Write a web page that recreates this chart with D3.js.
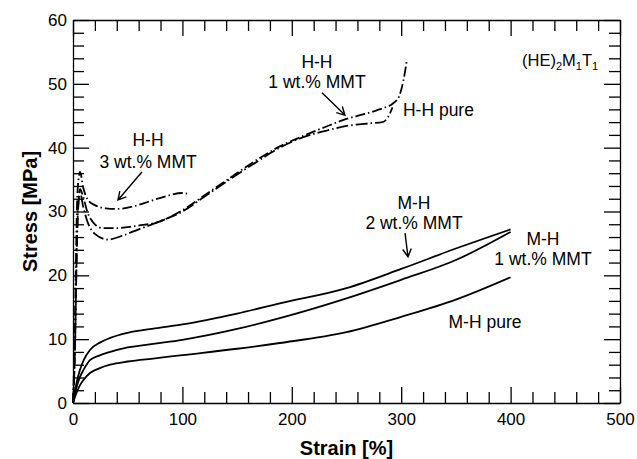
<!DOCTYPE html>
<html><head><meta charset="utf-8">
<script src="https://cdn.jsdelivr.net/npm/d3@7"></script>
<style>
body{margin:0;background:#fff;}
text{font-family:"Liberation Sans",Arial,sans-serif;}
</style></head>
<body><svg id="c" width="637" height="459"></svg>
<script>
// ---- data: [strain %, stress MPa]
const hh3 = [[0,0],[1.5,10],[2.5,20],[3.5,30],[5,35],[6.5,36.2],[9,34],[13,32],[20,31],[30,30.5],[40,30.4],[55,30.8],[70,31.6],[85,32.4],[100,32.9],[105,32.8]];
const hh1 = [[0,0],[2,10],[3,20],[4.5,30],[6.5,33.5],[9,32.5],[13,30],[20,28],[27,27.4],[40,27.4],[60,27.8],[77,28.3],[100,30.2],[120,32.5],[143,35.2],[170,38.3],[189,40.2],[210,41.8],[230,43.2],[250,44.5],[265,45.2],[280,46],[293,47],[298,48],[302,50.5],[305,53.5]];
const hhPure = [[0,0],[2,10],[3,20],[4.5,30],[6.5,33],[9,31],[13,28.5],[20,26.5],[32,25.6],[45,26.2],[60,27.2],[80,28.5],[100,30],[120,32.3],[143,35],[170,38],[189,40],[210,41.6],[230,42.6],[250,43.4],[270,43.8],[283,44.0],[288,44.8],[292,46.3]];
const mh2 = [[0,0],[3,3],[6.4,5.2],[10,6.8],[15.5,8.3],[25,9.5],[34,10.2],[50,11],[75,11.7],[100,12.3],[150,14],[189,15.6],[250,18],[300,21],[350,24.2],[400,27.2]];
const mh1 = [[0,0],[3,2.3],[6.4,4.1],[10,5.3],[15.5,6.7],[25,7.5],[34,8],[50,8.7],[75,9.3],[100,9.9],[150,11.6],[189,13.3],[250,16.4],[300,19.3],[350,22.4],[400,26.8]];
const mhPure = [[0,0],[3,1.5],[6.4,2.8],[10,3.7],[15.5,4.7],[25,5.5],[34,6.0],[50,6.5],[75,7],[100,7.5],[150,8.5],[189,9.4],[250,11.1],[300,13.5],[350,16.2],[400,19.7]];
const xMajor = [0,100,200,300,400,500];
const yMajor = [0,10,20,30,40,50,60];

const svg = d3.select("#c");
const L=73,R=620,T=20,B=403;
const x = d3.scaleLinear().domain([0,500]).range([L,R]);
const y = d3.scaleLinear().domain([0,60]).range([B,T]);
const xMinor = d3.range(0,501,20).filter(v=>v%100);
const yMinor = d3.range(0,61,2).filter(v=>v%10);

function styleAxis(g){
  g.selectAll("path,line").attr("stroke","#000").attr("stroke-width",1.3);
  g.selectAll("text").attr("font-size",17).attr("fill","#000")
    .attr("font-family","'Liberation Sans',Arial,sans-serif");
}
// bottom
svg.append("g").attr("transform",`translate(0,${B})`)
  .call(d3.axisBottom(x).tickValues(xMajor).tickSizeInner(-16).tickSizeOuter(0).tickPadding(10).tickFormat(d3.format("d")))
  .call(styleAxis);
svg.append("g").attr("transform",`translate(0,${B})`)
  .call(d3.axisBottom(x).tickValues(xMinor).tickSizeInner(-11).tickSizeOuter(0).tickFormat(""))
  .call(styleAxis).select(".domain").remove();
// top
svg.append("g").attr("transform",`translate(0,${T})`)
  .call(d3.axisTop(x).tickValues(xMajor).tickSizeInner(-16).tickSizeOuter(0).tickFormat(""))
  .call(styleAxis);
svg.append("g").attr("transform",`translate(0,${T})`)
  .call(d3.axisTop(x).tickValues(xMinor).tickSizeInner(-11).tickSizeOuter(0).tickFormat(""))
  .call(styleAxis).select(".domain").remove();
// left
svg.append("g").attr("transform",`translate(${L},0)`)
  .call(d3.axisLeft(y).tickValues(yMajor).tickSizeInner(-16).tickSizeOuter(0).tickPadding(6).tickFormat(d3.format("d")))
  .call(styleAxis);
svg.append("g").attr("transform",`translate(${L},0)`)
  .call(d3.axisLeft(y).tickValues(yMinor).tickSizeInner(-11).tickSizeOuter(0).tickFormat(""))
  .call(styleAxis).select(".domain").remove();
// right
svg.append("g").attr("transform",`translate(${R},0)`)
  .call(d3.axisRight(y).tickValues(yMajor).tickSizeInner(-16).tickSizeOuter(0).tickFormat(""))
  .call(styleAxis);
svg.append("g").attr("transform",`translate(${R},0)`)
  .call(d3.axisRight(y).tickValues(yMinor).tickSizeInner(-11).tickSizeOuter(0).tickFormat(""))
  .call(styleAxis).select(".domain").remove();

// axis titles
svg.append("text").attr("x",(L+R)/2).attr("y",455).attr("text-anchor","middle")
  .attr("font-size",20).attr("font-weight","bold").text("Strain [%]");
svg.append("text").attr("transform",`translate(37,${(T+B)/2}) rotate(-90)`).attr("text-anchor","middle")
  .attr("font-size",20).attr("font-weight","bold").text("Stress [MPa]");

// curves
const line = d3.line().x(d=>x(d[0])).y(d=>y(d[1])).curve(d3.curveMonotoneX);
const series = [
  {d:mh2,dash:null},{d:mh1,dash:null},{d:mhPure,dash:null},
  {d:hh3,dash:"10,3,1.5,3"},{d:hh1,dash:"10,3,1.5,3"},{d:hhPure,dash:"12,3,1.5,3"}
];
svg.append("g").selectAll("path").data(series).join("path")
  .attr("d",s=>line(s.d)).attr("fill","none").attr("stroke","#000")
  .attr("stroke-width",1.8).attr("stroke-dasharray",s=>s.dash);

// annotations
const ann = svg.append("g").attr("font-size",17.5).attr("fill","#000");
function label(sx,sv,txt,anchor){
  return ann.append("text").attr("x",x(sx)).attr("y",y(sv)).attr("text-anchor",anchor||"middle").text(txt);
}
const t = ann.append("text").attr("x",x(480)).attr("y",y(52.8)).attr("text-anchor","end").attr("font-size",16.5);
t.append("tspan").text("(HE)");
t.append("tspan").attr("font-size",11).attr("dy",4).text("2");
t.append("tspan").attr("dy",-4).text("M");
t.append("tspan").attr("font-size",11).attr("dy",4).text("1");
t.append("tspan").attr("dy",-4).text("T");
t.append("tspan").attr("font-size",11).attr("dy",4).text("1");

label(223,52.5,"H-H"); label(223,49.3,"1 wt.% MMT");
label(301.6,45.0,"H-H pure","start");
label(68.6,40.3,"H-H"); label(68.6,36.8,"3 wt.% MMT");
label(311.7,30.4,"M-H"); label(311.7,27.3,"2 wt.% MMT");
label(429.6,24.8,"M-H"); label(429.6,21.6,"1 wt.% MMT");
label(376.6,11.75,"M-H pure");

function arrow(x0,y0,x1,y1){
  const X0=x(x0),Y0=y(y0),X1=x(x1),Y1=y(y1);
  const a=Math.atan2(Y1-Y0,X1-X0), h=9, w=0.5;
  const p=d3.path();
  p.moveTo(X0,Y0); p.lineTo(X1,Y1);
  p.moveTo(X1-h*Math.cos(a-w),Y1-h*Math.sin(a-w)); p.lineTo(X1,Y1);
  p.lineTo(X1-h*Math.cos(a+w),Y1-h*Math.sin(a+w));
  svg.append("path").attr("d",p.toString()).attr("fill","none").attr("stroke","#000").attr("stroke-width",1.4);
}
arrow(227.6,48.6,248.6,45.1);
arrow(63,36.2,41.1,31.8);
arrow(303.5,26.6,306.2,22.9);
</script></body></html>
